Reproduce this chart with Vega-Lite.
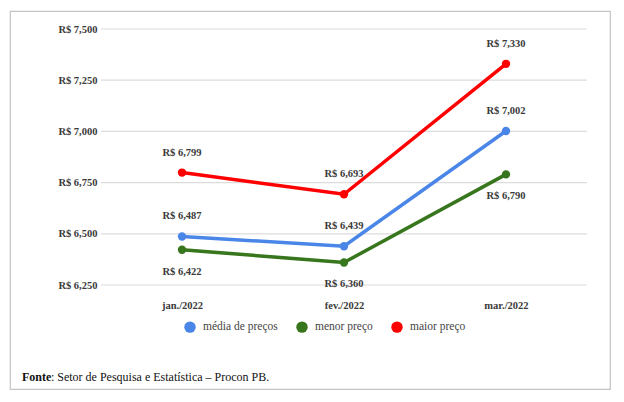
{
  "$schema": "https://vega.github.io/schema/vega-lite/v6.json",
  "width": 600,
  "height": 378,
  "autosize": "none",
  "padding": {"left": 10, "top": 11, "right": 14, "bottom": 13},
  "background": "white",
  "config": {
    "view": {"stroke": "#c4c4c4", "strokeWidth": 1.2},
    "font": "Liberation Serif"
  },
  "datasets": {
    "precos": [
      {"i": 0, "mes": "jan./2022", "serie": "média de preços", "valor": 6487},
      {"i": 1, "mes": "fev./2022", "serie": "média de preços", "valor": 6439},
      {"i": 2, "mes": "mar./2022", "serie": "média de preços", "valor": 7002},
      {"i": 0, "mes": "jan./2022", "serie": "menor preço", "valor": 6422},
      {"i": 1, "mes": "fev./2022", "serie": "menor preço", "valor": 6360},
      {"i": 2, "mes": "mar./2022", "serie": "menor preço", "valor": 6790},
      {"i": 0, "mes": "jan./2022", "serie": "maior preço", "valor": 6799},
      {"i": 1, "mes": "fev./2022", "serie": "maior preço", "valor": 6693},
      {"i": 2, "mes": "mar./2022", "serie": "maior preço", "valor": 7330}
    ],
    "grade": [
      {"v": 6250}, {"v": 6500}, {"v": 6750}, {"v": 7000}, {"v": 7250}, {"v": 7500}
    ],
    "fonte": [
      {"parte": "Fonte", "resto": ": Setor de Pesquisa e Estatística – Procon PB."}
    ]
  },
  "layer": [
    {
      "data": {"name": "grade"},
      "mark": {"type": "rule", "color": "#dcdcdc", "strokeWidth": 1.2},
      "encoding": {
        "y": {"field": "v", "type": "quantitative"},
        "x": {"datum": -0.5},
        "x2": {"datum": 2.5}
      }
    },
    {
      "data": {"name": "precos"},
      "transform": [
        {"calculate": "'R$ ' + format(datum.valor, ',')", "as": "rotulo"}
      ],
      "encoding": {
        "x": {
          "field": "i",
          "type": "quantitative",
          "scale": {"domain": [-1.0617, 2.642], "nice": false, "zero": false},
          "axis": {
            "values": [0, 1, 2],
            "labelExpr": "['jan./2022','fev./2022','mar./2022'][datum.value]",
            "title": null,
            "domain": false,
            "ticks": false,
            "grid": false,
            "tickSize": 0,
            "labelPadding": 0,
            "offset": -89,
            "labelFontSize": 10.5,
            "labelFontWeight": "bold",
            "labelColor": "#3a3a3a"
          }
        },
        "y": {
          "field": "valor",
          "type": "quantitative",
          "scale": {"domain": [5742.2, 7587.9], "nice": false, "zero": false},
          "axis": {
            "values": [6250, 6500, 6750, 7000, 7250, 7500],
            "labelExpr": "'R$ ' + format(datum.value, ',')",
            "title": null,
            "domain": false,
            "ticks": false,
            "grid": false,
            "tickSize": 0,
            "labelPadding": 0,
            "offset": -87,
            "labelFontSize": 10.5,
            "labelFontWeight": "bold",
            "labelColor": "#3a3a3a"
          }
        },
        "color": {
          "field": "serie",
          "type": "nominal",
          "scale": {
            "domain": ["média de preços", "menor preço", "maior preço"],
            "range": ["#4a86e8", "#38761d", "#ff0000"]
          },
          "legend": {
            "title": null,
            "orient": "none",
            "legendX": 174,
            "legendY": 310,
            "direction": "horizontal",
            "symbolType": "circle",
            "symbolSize": 130,
            "symbolStrokeWidth": 0,
            "columnPadding": 18,
            "labelFontSize": 11.5,
            "labelColor": "#444444",
            "labelOffset": 7
          }
        }
      },
      "layer": [
        {"mark": {"type": "line", "strokeWidth": 3.5}},
        {"mark": {"type": "point", "filled": true, "size": 70, "opacity": 1}},
        {
          "transform": [{"filter": "datum.serie != 'menor preço'"}],
          "mark": {"type": "text", "dy": -20, "fontSize": 10.5, "fontWeight": "bold"},
          "encoding": {"text": {"field": "rotulo"}, "color": {"value": "#3a3a3a"}}
        },
        {
          "transform": [{"filter": "datum.serie == 'menor preço'"}],
          "mark": {"type": "text", "dy": 22, "fontSize": 10.5, "fontWeight": "bold"},
          "encoding": {"text": {"field": "rotulo"}, "color": {"value": "#3a3a3a"}}
        }
      ]
    },
    {
      "data": {"name": "fonte"},
      "mark": {"type": "text", "align": "left", "fontSize": 12, "fontWeight": "bold", "color": "#111111"},
      "encoding": {
        "x": {"datum": -0.988},
        "y": {"datum": 5800},
        "text": {"field": "parte"}
      }
    },
    {
      "data": {"name": "fonte"},
      "mark": {"type": "text", "align": "left", "fontSize": 12, "dx": 29, "color": "#111111"},
      "encoding": {
        "x": {"datum": -0.988},
        "y": {"datum": 5800},
        "text": {"field": "resto"}
      }
    }
  ]
}
